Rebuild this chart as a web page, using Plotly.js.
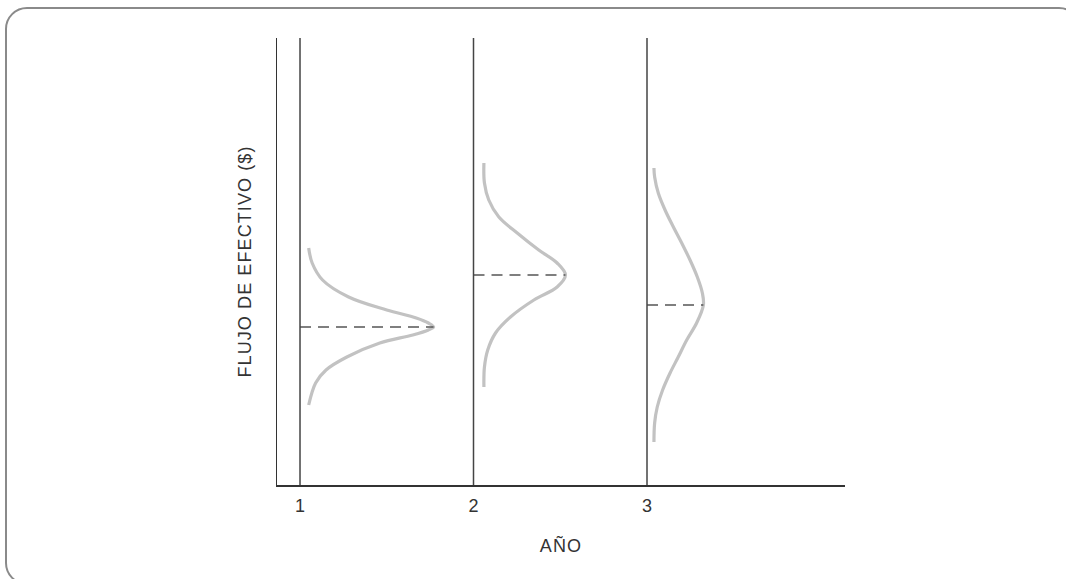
<!DOCTYPE html>
<html>
<head>
<meta charset="utf-8">
<script src="https://cdn.plot.ly/plotly-3.0.1.min.js"></script>
<style>
  html, body { margin: 0; padding: 0; background: #ffffff; overflow: hidden; }
  #frame { position: absolute; left: 5px; top: 7px; width: 1072px; height: 574px;
           border: 2px solid #8a8a8a; border-radius: 22px; box-sizing: content-box; }
  #chart { position: absolute; left: 0; top: 0; width: 1066px; height: 579px; }
  #chart .xtitle, #chart .ytitle { letter-spacing: 1.1px; }
</style>
</head>
<body>
<div id="frame"></div>
<div id="chart"></div>
<script>
// Years (x categories)
const years = [1, 2, 3];
const tickLabels = ["1", "2", "3"];

// Cash-flow levels (y) along each distribution curve and the curve's width (density, in year units)
const flow1 = [237, 222, 205, 188, 175, 167, 162, 158, 155, 150, 142, 128, 115, 102, 80];
const dens1 = [0.05, 0.07, 0.13, 0.28, 0.50, 0.67, 0.74, 0.77, 0.74, 0.65, 0.46, 0.27, 0.15, 0.09, 0.05];

const flow2 = [322, 302, 285, 268, 252, 235, 222, 210, 198, 185, 168, 152, 135, 118, 98];
const dens2 = [0.06, 0.063, 0.088, 0.146, 0.252, 0.376, 0.482, 0.53, 0.482, 0.348, 0.213, 0.127, 0.082, 0.063, 0.06];

const flow3 = [317, 308, 292, 275, 258, 242, 225, 208, 192, 180, 162, 145, 128, 112, 95, 78, 62, 43];
const dens3 = [0.04, 0.044, 0.065, 0.104, 0.152, 0.2, 0.248, 0.29, 0.319, 0.325, 0.286, 0.229, 0.18, 0.133, 0.09, 0.059, 0.044, 0.04];

// Expected (mean) cash flow per year and peak density
const meanFlow = [158, 210, 180];
const peakDens = [0.77, 0.53, 0.325];

const flows = [flow1, flow2, flow3];
const denss = [dens1, dens2, dens3];

const traces = [];
years.forEach((yr, i) => {
  traces.push({
    x: denss[i].map(d => yr + d),
    y: flows[i],
    type: 'scatter', mode: 'lines',
    line: { color: '#c2c2c2', width: 3.2, shape: 'spline', smoothing: 1.0 },
    hoverinfo: 'skip', showlegend: false
  });
  traces.push({
    x: [yr, yr + peakDens[i]],
    y: [meanFlow[i], meanFlow[i]],
    type: 'scatter', mode: 'lines',
    line: { color: '#555555', width: 1.5, dash: '11px,7px' },
    hoverinfo: 'skip', showlegend: false
  });
});

const shapes = years.map(yr => ({
  type: 'line', xref: 'x', yref: 'paper',
  x0: yr, x1: yr, y0: 0, y1: 1,
  line: { color: '#444444', width: 1.5 }
}));

const font = { family: 'Liberation Sans, Arial, sans-serif', color: '#333333', size: 18 };

const layout = {
  width: 1066, height: 579,
  margin: { l: 277, r: 221, t: 38, b: 94, pad: 0 },
  paper_bgcolor: 'rgba(0,0,0,0)',
  plot_bgcolor: 'rgba(0,0,0,0)',
  font: font,
  showlegend: false,
  shapes: shapes,
  xaxis: {
    range: [0.8674, 4.1412],
    tickmode: 'array', tickvals: years, ticktext: tickLabels,
    ticks: '', showgrid: false, zeroline: false,
    showline: true, linecolor: '#333333', linewidth: 1.5,
    tickfont: font, ticklabelstandoff: 4,
    title: { text: 'AÑO', font: font, standoff: 24 },
    fixedrange: true
  },
  yaxis: {
    range: [0, 447],
    showticklabels: false, ticks: '', showgrid: false, zeroline: false,
    showline: true, linecolor: '#333333', linewidth: 1.5,
    title: { text: 'FLUJO DE EFECTIVO ($)', font: font, standoff: 19 },
    fixedrange: true
  }
};

Plotly.newPlot('chart', traces, layout, { displayModeBar: false, staticPlot: true });
</script>
</body>
</html>
